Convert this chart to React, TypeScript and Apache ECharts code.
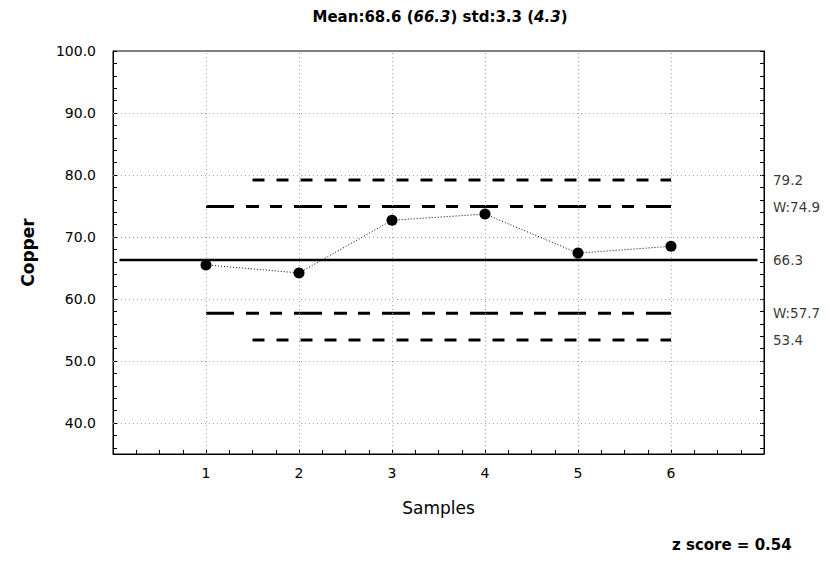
import React, { useEffect, useRef } from "react";
import * as echarts from "echarts";

const samples = [1, 2, 3, 4, 5, 6];
const copper = [65.5, 64.2, 72.7, 73.7, 67.4, 68.5];
const centerLine = 66.3;
const warnUpper = 74.9;
const warnLower = 57.7;
const ctrlUpper = 79.2;
const ctrlLower = 53.4;
const meanValue = 68.6;
const stdValue = 3.3;
const sigmaValue = 4.3;
const zScore = 0.54;
const yGrid = [40, 50, 60, 70, 80, 90];
const xGrid = [1, 2, 3, 4, 5, 6];
const yMinorTicks = [36, 38, 40, 42, 44, 46, 48, 50, 52, 54, 56, 58, 60, 62, 64, 66, 68, 70, 72, 74, 76, 78, 80, 82, 84, 86, 88, 90, 92, 94, 96, 98, 100];

const FONT = "DejaVu Sans";

export default function App() {
  const ref = useRef<HTMLDivElement>(null);
  useEffect(() => {
    if (!ref.current) return;
    const chart = echarts.init(ref.current, null, { renderer: "svg" });
    const black = "#000";
    const limitLabels = [
      { value: [7, ctrlUpper], name: ctrlUpper.toFixed(1) },
      { value: [7, warnUpper], name: "W:" + warnUpper.toFixed(1) },
      { value: [7, centerLine], name: centerLine.toFixed(1) },
      { value: [7, warnLower], name: "W:" + warnLower.toFixed(1) },
      { value: [7, ctrlLower], name: ctrlLower.toFixed(1) },
    ];
    const longShort = [28, 12, 13, 11, 12, 12];
    const shortDash = [12, 12];
    chart.setOption({
      animation: false,
      backgroundColor: "#fff",
      textStyle: { fontFamily: FONT, fontSize: 13 },
      grid: {
        left: 113,
        top: 51,
        width: 651,
        height: 403,
        show: true,
        borderColor: black,
        borderWidth: 1,
        backgroundColor: "transparent",
      },
      xAxis: {
        type: "value",
        min: 0,
        max: 7,
        interval: 1,
        axisLine: { show: true, lineStyle: { color: black, width: 1 } },
        axisTick: { show: true, inside: true, length: 5, lineStyle: { color: black } },
        minorTick: { show: true, splitNumber: 4, length: 4, lineStyle: { color: black } },
        splitLine: { show: false },
        axisLabel: {
          show: true,
          color: "#000",
          fontFamily: FONT,
          fontSize: 14,
          margin: 12,
          formatter: (v: number) => (v >= 1 && v <= 6 ? String(v) : ""),
        },
        name: "Samples",
        nameLocation: "middle",
        nameGap: 45,
        nameTextStyle: { color: "#000", fontFamily: FONT, fontSize: 17 },
      },
      yAxis: [
        {
          type: "value",
          min: 35,
          max: 100,
          interval: 5,
          position: "left",
          axisLine: { show: true, lineStyle: { color: black, width: 1 } },
          axisTick: { show: true, inside: true, length: 4, customValues: yMinorTicks, lineStyle: { color: black } },
          splitLine: { show: false },
          axisLabel: {
            show: true,
            color: "#000",
            fontFamily: FONT,
            fontSize: 14,
            margin: 17,
            padding: [0, 0, 4, 0],
            formatter: (v: number) => (v % 10 === 0 && v >= 40 ? v.toFixed(1) : ""),
          },
          name: "Copper",
          nameLocation: "middle",
          nameGap: 77,
          nameTextStyle: { color: "#000", fontFamily: FONT, fontSize: 17, fontWeight: "bold" },
        },
        {
          type: "value",
          min: 35,
          max: 100,
          interval: 5,
          position: "right",
          axisLine: { show: true, lineStyle: { color: black, width: 1 } },
          axisTick: { show: true, inside: true, length: 4, customValues: yMinorTicks, lineStyle: { color: black } },
          splitLine: { show: false },
          axisLabel: { show: false },
        },
      ],
      graphic: [
        {
          type: "text",
          x: 440,
          y: 17,
          style: {
            text:
              "{b|Mean:" + meanValue.toFixed(1) + " (}{i|" + centerLine.toFixed(1) + "}{b|) std:" +
              stdValue.toFixed(1) + " (}{i|" + sigmaValue.toFixed(1) + "}{b|)}",
            align: "center",
            verticalAlign: "middle",
            rich: {
              b: { fontFamily: FONT, fontSize: 15, fontWeight: "bold", fill: "#000" },
              i: { fontFamily: FONT, fontSize: 15, fontWeight: "bold", fontStyle: "italic", fill: "#000" },
            },
          },
        },
        {
          type: "text",
          x: 672,
          y: 545,
          style: {
            text: "z score = " + zScore.toFixed(2),
            fontFamily: FONT,
            fontSize: 15,
            fontWeight: "bold",
            fill: "#000",
            align: "left",
            verticalAlign: "middle",
          },
        },
      ],
      series: [
        {
          type: "line",
          name: "grid",
          data: [],
          z: 1,
          silent: true,
          markLine: {
            silent: true,
            symbol: ["none", "none"],
            label: { show: false },
            lineStyle: { color: "#a0a0a0", width: 1, type: [1, 3] },
            data: [
              ...yGrid.map((v) => ({ yAxis: v })),
              ...xGrid.map((v) => ({ xAxis: v })),
            ],
          },
        },
        {
          type: "line",
          name: "center",
          data: [[0.07, centerLine], [6.93, centerLine]],
          symbol: "none",
          z: 3,
          lineStyle: { color: black, width: 2.5, type: "solid" },
        },
        {
          type: "line",
          name: "UWL",
          data: [[1, warnUpper], [6, warnUpper]],
          symbol: "none",
          z: 3,
          lineStyle: { color: black, width: 3, type: longShort },
        },
        {
          type: "line",
          name: "LWL",
          data: [[1, warnLower], [6, warnLower]],
          symbol: "none",
          z: 3,
          lineStyle: { color: black, width: 3, type: longShort },
        },
        {
          type: "line",
          name: "UCL",
          data: [[1.5, ctrlUpper], [6, ctrlUpper]],
          symbol: "none",
          z: 3,
          lineStyle: { color: black, width: 3, type: shortDash },
        },
        {
          type: "line",
          name: "LCL",
          data: [[1.5, ctrlLower], [6, ctrlLower]],
          symbol: "none",
          z: 3,
          lineStyle: { color: black, width: 3, type: shortDash },
        },
        {
          type: "line",
          name: "Copper",
          data: samples.map((s, i) => [s, copper[i]]),
          symbol: "circle",
          symbolSize: 11,
          z: 5,
          itemStyle: { color: black },
          lineStyle: { color: black, width: 1, type: [1, 2] },
        },
        {
          type: "scatter",
          name: "limits",
          data: limitLabels,
          symbolSize: 0,
          clip: false,
          silent: true,
          z: 5,
          label: {
            show: true,
            position: "right",
            distance: 9,
            formatter: "{b}",
            color: "#000",
            fontFamily: FONT,
            fontSize: 13.5,
          },
        },
      ],
    });
    return () => chart.dispose();
  }, []);
  return (
    <div
      ref={ref}
      style={{ position: "fixed", left: 0, top: 0, width: 830, height: 561, background: "#fff" }}
    />
  );
}
